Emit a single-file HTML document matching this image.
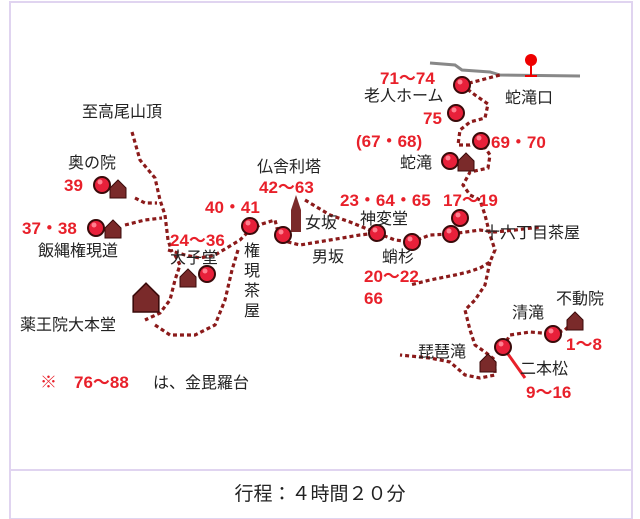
<!DOCTYPE html>
<html><head><meta charset="utf-8"><style>
html,body{margin:0;padding:0;background:#fff;}
svg{display:block;font-family:"Liberation Sans","Noto Sans CJK JP",sans-serif;}
.k{fill:#222;font-size:16px;}
.r{fill:#e8202a;font-size:17px;font-weight:bold;}
.p{fill:none;stroke:#8b1a1a;stroke-width:3.2;stroke-dasharray:4 3;}
</style></head><body>
<svg width="640" height="519" viewBox="0 0 640 519">
<defs>
<g id="m"><circle r="8" fill="#e8203a" stroke="#3a0a0a" stroke-width="2"/><circle cx="-2" cy="-3" r="2.5" fill="#ff8090"/></g>
<g id="h"><path d="M-8,10 L-8,0 L0,-8 L8,0 L8,10 Z" fill="#7a2a2a" stroke="#3a0a0a" stroke-width="1"/></g>
</defs>
<rect x="10" y="2" width="622" height="517" fill="#fff" stroke="#e0d4f0" stroke-width="2"/>
<line x1="10" y1="470" x2="632" y2="470" stroke="#e0d4f0" stroke-width="2"/>
<polyline points="430,63 455,65 462,70 490,72 500,75 580,76" fill="none" stroke="#888" stroke-width="3"/>
<line x1="531" y1="60" x2="531" y2="76" stroke="#e00" stroke-width="2"/>
<line x1="525" y1="76" x2="537" y2="76" stroke="#e00" stroke-width="2"/>
<circle cx="531" cy="60" r="6" fill="#e00"/>
<polyline class="p" points="132,132 140,160 155,178 160,200 165,215 168,240 172,252"/>
<polyline class="p" points="135,198 145,203 157,203"/>
<polyline class="p" points="125,225 145,220 162,218"/>
<polyline class="p" points="168,250 185,255 200,258 215,255 240,240 250,230 262,224 275,220 280,240 300,245 330,240 360,235 377,233 395,240 412,242 430,235 451,234 480,230 495,232 515,230 540,227"/>
<polyline class="p" points="305,200 330,215 350,222 377,233"/>
<polyline class="p" points="175,255 180,265 175,280 170,300 160,313 145,320"/>
<polyline class="p" points="238,250 232,270 225,300 215,325 195,335 170,335 155,325"/>
<polyline class="p" points="462,85 475,95 488,104 485,118 470,122 460,130 458,145 470,145 481,141 490,155 488,168 470,172 463,185 470,195 480,200 485,215 490,235 495,250 490,262 480,268 468,272 455,275 430,280 410,285"/>
<polyline class="p" points="462,85 500,75"/>
<polyline class="p" points="490,262 485,285 475,300 465,310 470,330 475,345 485,352 495,360 495,375 480,378 465,375 450,362 430,358 400,355"/>
<polyline class="p" points="503,347 510,335 530,332 553,334 565,330 575,320"/>
<line x1="503" y1="347" x2="525" y2="378" stroke="#e8202a" stroke-width="3"/>
<path d="M291,232 L291,210 L296,195 L301,210 L301,232 Z" fill="#7a2a2a"/>
<use href="#h" x="118" y="188"/><use href="#h" x="113" y="228"/>
<use href="#h" x="188" y="277"/><use href="#h" x="466" y="161"/>
<use href="#h" x="488" y="362"/><use href="#h" x="575" y="320"/>
<g transform="translate(146,296) scale(1.6)"><use href="#h"/></g>
<use href="#m" x="102" y="185"/><use href="#m" x="96" y="228"/>
<use href="#m" x="207" y="274"/><use href="#m" x="250" y="226"/>
<use href="#m" x="283" y="235"/><use href="#m" x="377" y="233"/>
<use href="#m" x="412" y="242"/><use href="#m" x="460" y="218"/>
<use href="#m" x="451" y="234"/><use href="#m" x="462" y="85"/>
<use href="#m" x="456" y="113"/><use href="#m" x="481" y="141"/>
<use href="#m" x="450" y="161"/><use href="#m" x="503" y="347"/>
<use href="#m" x="553" y="334"/>
<text class="k" x="82" y="117">至高尾山頂</text>
<text class="k" x="68" y="168">奥の院</text>
<text class="r" x="64" y="191">39</text>
<text class="r" x="22" y="234">37・38</text>
<text class="k" x="38" y="256">飯縄権現道</text>
<text class="r" x="170" y="246">24～36</text>
<text class="k" x="170" y="263">大子堂</text>
<text class="r" x="205" y="213">40・41</text>
<text class="k" x="257" y="172">仏舎利塔</text>
<text class="r" x="259" y="193">42～63</text>
<text class="k" x="305" y="228">女坂</text>
<text class="k" x="312" y="262">男坂</text>
<text class="k" x="244" y="256">権</text><text class="k" x="244" y="276">現</text>
<text class="k" x="244" y="296">茶</text><text class="k" x="244" y="316">屋</text>
<text class="r" x="340" y="206">23・64・65</text>
<text class="k" x="360" y="224">神変堂</text>
<text class="k" x="382" y="262">蛸杉</text>
<text class="r" x="364" y="282">20～22</text>
<text class="r" x="364" y="304">66</text>
<text class="r" x="380" y="84">71～74</text>
<text class="k" x="364" y="101">老人ホーム</text>
<text class="r" x="423" y="124">75</text>
<text class="r" x="356" y="147">(67・68)</text>
<text class="r" x="491" y="148">69・70</text>
<text class="k" x="400" y="168">蛇滝</text>
<text class="k" x="505" y="103">蛇滝口</text>
<text class="r" x="443" y="206">17～19</text>
<text class="k" x="484" y="238">十六丁目茶屋</text>
<text class="k" x="512" y="318">清滝</text>
<text class="k" x="556" y="304">不動院</text>
<text class="r" x="566" y="350">1～8</text>
<text class="k" x="418" y="357">琵琶滝</text>
<text class="k" x="520" y="374">二本松</text>
<text class="r" x="526" y="398">9～16</text>
<text class="k" x="20" y="330">薬王院大本堂</text>
<text class="r" x="40" y="388">※　76～88</text><text class="k" x="153" y="388">は、金毘羅台</text>
<text x="320" y="500" text-anchor="middle" style="font-size:19px;fill:#222">行程：４時間２０分</text>
</svg>
</body></html>
